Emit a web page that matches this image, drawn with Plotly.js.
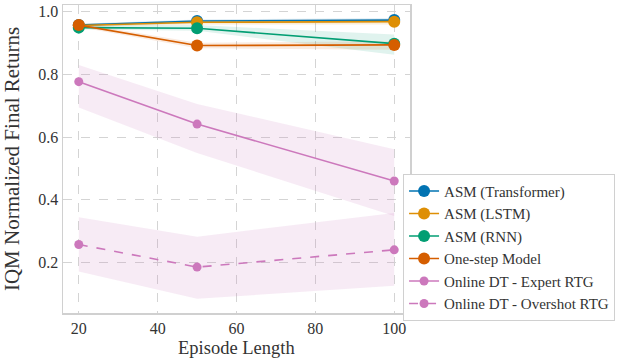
<!DOCTYPE html>
<html><head><meta charset="utf-8">
<script src="https://cdn.plot.ly/plotly-3.0.1.min.js"></script>
<style>body{margin:0;background:#fff}#c{width:623px;height:360px}</style>
</head><body><div id="c"></div>
<script>
const episodeLength = [20, 50, 100];
const seriesNames = ["ASM (Transformer)", "ASM (LSTM)", "ASM (RNN)", "One-step Model", "Online DT - Expert RTG", "Online DT - Overshot RTG"];
const xTitle = "Episode Length";
const yTitle = "IQM Normalized Final Returns";
const transformerMean = [0.956, 0.969, 0.972];
const transformerLow  = [0.950, 0.963, 0.966];
const transformerHigh = [0.960, 0.974, 0.978];
const lstmMean = [0.955, 0.965, 0.967];
const lstmLow  = [0.950, 0.958, 0.958];
const lstmHigh = [0.960, 0.971, 0.975];
const rnnMean = [0.948, 0.946, 0.897];
const rnnLow  = [0.942, 0.938, 0.862];
const rnnHigh = [0.954, 0.956, 0.926];
const oneStepMean = [0.956, 0.891, 0.893];
const oneStepLow  = [0.950, 0.882, 0.878];
const oneStepHigh = [0.962, 0.900, 0.905];
const expertMean = [0.776, 0.641, 0.460];
const expertLow  = [0.694, 0.549, 0.349];
const expertHigh = [0.829, 0.705, 0.561];
const overshotMean = [0.258, 0.186, 0.241];
const overshotLow  = [0.172, 0.085, 0.127];
const overshotHigh = [0.345, 0.283, 0.358];

const colors = ["#0173b2", "#de8f05", "#029e73", "#d55e00", "#cc78bc", "#cc78bc"];
const bandColors = ["rgba(1,115,178,0.15)", "rgba(222,143,5,0.15)", "rgba(2,158,115,0.12)", "rgba(213,94,0,0.12)", "rgba(204,120,188,0.15)", "rgba(204,120,188,0.15)"];
const means = [transformerMean, lstmMean, rnnMean, oneStepMean, expertMean, overshotMean];
const lows = [transformerLow, lstmLow, rnnLow, oneStepLow, expertLow, overshotLow];
const highs = [transformerHigh, lstmHigh, rnnHigh, oneStepHigh, expertHigh, overshotHigh];
const dashes = ["solid","solid","solid","solid","solid","dash"];
const msizes = [12,12,12,12,9,9];

const traces = [];
for (let i = 0; i < 6; i++) {
  traces.push({x: episodeLength, y: lows[i], mode: "lines", line: {width: 0, color: bandColors[i]}, showlegend: false, hoverinfo: "skip"});
  traces.push({x: episodeLength, y: highs[i], mode: "lines", line: {width: 0, color: bandColors[i]}, fill: "tonexty", fillcolor: bandColors[i], showlegend: false, hoverinfo: "skip"});
}
for (let i = 0; i < 6; i++) {
  traces.push({x: episodeLength, y: means[i], name: seriesNames[i], mode: "lines+markers",
    line: {color: colors[i], width: 1.6, dash: dashes[i]}, marker: {color: colors[i], size: msizes[i]}});
}
const font = "Liberation Serif";
const layout = {
  width: 623, height: 360,
  margin: {l: 63, r: 213, t: 5, b: 47},
  paper_bgcolor: "#fff", plot_bgcolor: "#fff",
  font: {family: font, color: "#333", size: 15},
  xaxis: {range: [16, 104], tickvals: [20, 40, 60, 80, 100], showgrid: true, gridcolor: "#d4d4d4", griddash: "dash", gridwidth: 1,
    showline: true, linecolor: "#d0d0d0", linewidth: 1.5, mirror: true, zeroline: false, ticks: "",
    tickfont: {size: 16}, automargin: false},
  yaxis: {range: [0.04, 1.02], tickvals: [0.2, 0.4, 0.6, 0.8, 1.0], ticktext: ["0.2","0.4","0.6","0.8","1.0"], showgrid: true, gridcolor: "#d4d4d4", griddash: "dash", gridwidth: 1,
    showline: true, linecolor: "#d0d0d0", linewidth: 1.5, mirror: true, zeroline: false, ticks: "",
    tickfont: {size: 16}, title: {text: yTitle, font: {size: 21}}, automargin: false},
  annotations: [{text: xTitle, xref: "paper", yref: "paper", x: 0.5, y: 0, xanchor: "center", yanchor: "top",
    yshift: -23, showarrow: false, font: {size: 18.5, color: "#333"}}],
  legend: {x: 0.98, y: 0.452, xanchor: "left", yanchor: "top", bgcolor: "#fff", bordercolor: "#d0d0d0", borderwidth: 1,
    font: {size: 15, color: "#333"}, tracegroupgap: 0, traceorder: "normal", itemwidth: 30},
  showlegend: true
};
Plotly.newPlot("c", traces, layout, {displayModeBar: false, staticPlot: true});
</script></body></html>
